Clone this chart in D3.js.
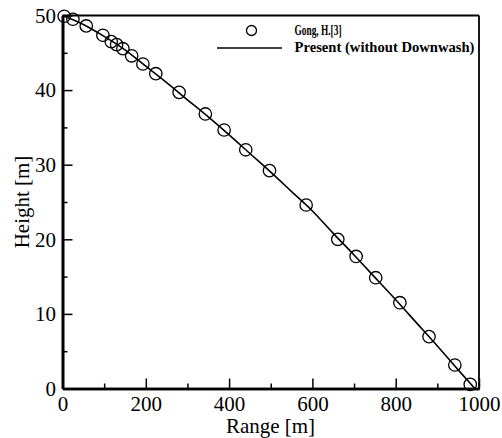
<!DOCTYPE html>
<html>
<head>
<meta charset="utf-8">
<script src="https://cdn.jsdelivr.net/npm/d3@7"></script>
<style>
  html, body { margin: 0; padding: 0; background: #fff; }
  svg { display: block; }
  text { font-family: "Liberation Serif", "Times New Roman", serif; fill: #000; }
</style>
</head>
<body>
<svg id="chart" width="502" height="438"></svg>
<script>
// Reference data: Gong, H. [3]
const gongRange  = [4, 25, 57, 97, 117, 130, 145, 166, 193, 224, 280, 343, 388, 440, 497, 585, 661, 705, 752, 810, 880, 942, 979];
const gongHeight = [49.9, 49.5, 48.6, 47.35, 46.5, 46.1, 45.55, 44.6, 43.5, 42.2, 39.7, 36.8, 34.65, 32.0, 29.2, 24.6, 20.0, 17.7, 14.85, 11.5, 6.95, 3.15, 0.55];

// Present computation (without downwash)
const presentRange  = [0, 50, 100, 150, 200, 250, 300, 350, 400, 450, 500, 550, 600, 650, 700, 750, 800, 850, 900, 950, 990];
const presentHeight = [50, 48.8, 47.2, 45.4, 43.2, 41.0, 38.7, 36.4, 34.0, 31.5, 29.0, 26.4, 23.8, 20.8, 17.9, 14.9, 11.9, 8.8, 5.7, 2.5, 0];

const xTicks = [0, 200, 400, 600, 800, 1000];
const yTicks = [0, 10, 20, 30, 40, 50];
const xMinor = [100, 300, 500, 700, 900];
const yMinor = [5, 15, 25, 35, 45];

const svg = d3.select("#chart");
const plotL = 62.5, plotR = 479, plotT = 15.5, plotB = 388.5;

const x = d3.scaleLinear().domain([0, 1000]).range([plotL, plotR]);
const y = d3.scaleLinear().domain([0, 50]).range([plotB, plotT]);

// Frame (top and right thinner)
svg.append("line").attr("x1", plotL).attr("x2", plotR).attr("y1", plotT).attr("y2", plotT)
  .attr("stroke", "#000").attr("stroke-width", 1.8);
svg.append("line").attr("x1", plotR).attr("x2", plotR).attr("y1", plotT).attr("y2", plotB)
  .attr("stroke", "#000").attr("stroke-width", 1.8);

// Axes with inward ticks
const xAxis = svg.append("g").attr("transform", `translate(0,${plotB})`)
  .call(d3.axisBottom(x).tickValues(xTicks).tickSizeInner(-10).tickSizeOuter(0).tickPadding(8).tickFormat(d3.format("d")));
const xAxisMinor = svg.append("g").attr("transform", `translate(0,${plotB})`)
  .call(d3.axisBottom(x).tickValues(xMinor).tickSizeInner(-5).tickSizeOuter(0).tickFormat(""));
const yAxis = svg.append("g").attr("transform", `translate(${plotL},0)`)
  .call(d3.axisLeft(y).tickValues(yTicks).tickSizeInner(-10).tickSizeOuter(0).tickPadding(6.5).tickFormat(d3.format("d")));
const yAxisMinor = svg.append("g").attr("transform", `translate(${plotL},0)`)
  .call(d3.axisLeft(y).tickValues(yMinor).tickSizeInner(-5).tickSizeOuter(0).tickFormat(""));

[xAxis, xAxisMinor, yAxis, yAxisMinor].forEach(g => {
  g.select(".domain").attr("stroke", "#000").attr("stroke-width", 2.6);
  g.selectAll(".tick line").attr("stroke", "#000").attr("stroke-width", 1.5);
  g.selectAll(".tick text").attr("font-family", "Liberation Serif").attr("font-size", 21).attr("fill", "#000");
});

// Present curve
const line = d3.line().x((d, i) => x(presentRange[i])).y(d => y(d)).curve(d3.curveMonotoneX);
svg.append("path").datum(presentHeight).attr("d", line)
  .attr("fill", "none").attr("stroke", "#000").attr("stroke-width", 1.6);

// Reference markers
svg.append("g").selectAll("circle").data(gongHeight).join("circle")
  .attr("cx", (d, i) => x(gongRange[i])).attr("cy", d => y(d)).attr("r", 6.2)
  .attr("fill", "none").attr("stroke", "#000").attr("stroke-width", 1.3);

// Legend
const leg = svg.append("g");
leg.append("circle").attr("cx", 251.5).attr("cy", 30.5).attr("r", 5)
  .attr("fill", "none").attr("stroke", "#000").attr("stroke-width", 1.3);
leg.append("line").attr("x1", 217).attr("x2", 282).attr("y1", 48).attr("y2", 48)
  .attr("stroke", "#000").attr("stroke-width", 1.3);
leg.append("text").attr("x", 294.5).attr("y", 35).attr("font-weight", "bold").attr("font-size", 14.5)
  .attr("textLength", 47).attr("lengthAdjust", "spacingAndGlyphs").text("Gong, H.[3]");
leg.append("text").attr("x", 294.5).attr("y", 52).attr("font-weight", "bold").attr("font-size", 14.5)
  .attr("textLength", 180).attr("lengthAdjust", "spacingAndGlyphs").text("Present (without Downwash)");

// Axis titles
svg.append("text").attr("x", 270.5).attr("y", 433).attr("text-anchor", "middle").attr("font-size", 21).text("Range [m]");
svg.append("text").attr("transform", `translate(28.5,${(plotT + plotB) / 2}) rotate(-90)`)
  .attr("text-anchor", "middle").attr("font-size", 21).text("Height [m]");
</script>
</body>
</html>
